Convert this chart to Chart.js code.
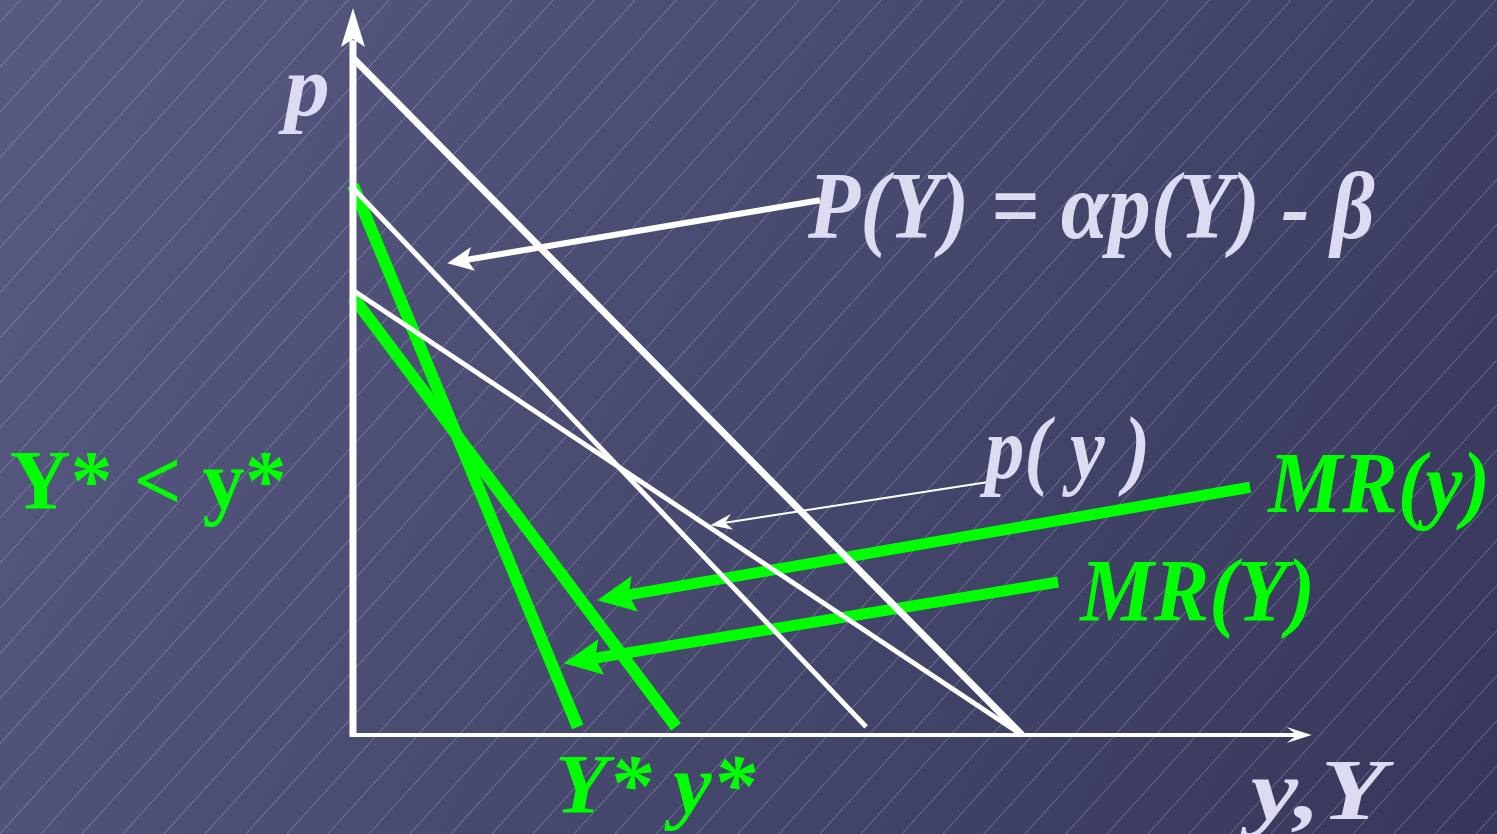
<!DOCTYPE html>
<html>
<head>
<meta charset="utf-8">
<script src="https://cdn.jsdelivr.net/npm/chart.js@4.4.1/dist/chart.umd.min.js"></script>
<style>
  html, body { margin: 0; padding: 0; background: #474870; overflow: hidden; }
  canvas { display: block; }
</style>
</head>
<body>
<canvas id="chart" width="1497" height="834"></canvas>
<script>
// curves, in (quantity, price) units
const yAxisLine = [[0, 0], [0, 10.74]];
const xAxisLine = [[-0.05, 0], [14.33, 0]];
const topDemand = [[0, 10.0], [10, 0]];
const bigPDemand = [[0, 8.08], [7.67, 0.12]];
const smallPDemand = [[0, 6.57], [10, 0]];
const mrBigY = [[0, 8.12], [3.36, 0.12]];
const mrSmallY = [[0, 6.47], [4.83, 0.12]];

// pointer arrows: [from, tip]
const arrowBigP = [[6.98, 7.90], [1.41, 6.97]];
const arrowSmallP = [[9.52, 3.74], [5.34, 3.10]];
const arrowMRy = [[13.41, 3.66], [3.65, 1.99]];
const arrowMRY = [[10.54, 2.26], [3.15, 1.06]];

// labels
const labelTexts = ['p', 'P(Y) = αp(Y) - β', 'p( y )', 'MR(y)', 'MR(Y)', 'Y* < y*', 'Y* y*', 'y,Y'];
const labelAnchors = [[-1.02, 9.16], [6.80, 7.34], [9.45, 3.80], [13.68, 3.29], [10.87, 1.70], [-5.13, 3.34], [3.02, -1.15], [13.42, -1.24]];

const LAV = '#dddbf2';
const GREEN = '#00ff00';
const labelStyle = [
  { color: LAV, size: 86, italic: true, w: 45 },
  { color: LAV, size: 96, italic: true, w: 567 },
  { color: LAV, size: 88, italic: true, w: 165 },
  { color: GREEN, size: 86, italic: true, w: 222 },
  { color: GREEN, size: 88, italic: true, w: 235 },
  { color: GREEN, size: 84, italic: false, w: 277 },
  { color: GREEN, size: 84, italic: true, w: 200 },
  { color: LAV, size: 86, italic: true, w: 135 }
];
const SERIF = '"Liberation Serif", "Times New Roman", Tinos, Times, serif';

const PX_PER_UNIT = 67;

const toXY = arr => arr.map(p => ({ x: p[0], y: p[1] }));

// stop the shaft a little before the tip so the head stays sharp
function shaft(arr, headLen) {
  const [a, b] = arr;
  const dx = b[0] - a[0], dy = b[1] - a[1];
  const d = Math.hypot(dx, dy);
  const back = headLen / PX_PER_UNIT;
  return [{ x: a[0], y: a[1] }, { x: b[0] - dx / d * back, y: b[1] - dy / d * back }];
}

function lineSet(data, color, width, head) {
  return {
    data: data,
    showLine: true,
    borderColor: color,
    backgroundColor: color,
    borderWidth: width,
    borderCapStyle: 'butt',
    pointRadius: 0,
    fill: false,
    head: head || null
  };
}

const heads = {
  yAxis: { tip: yAxisLine[1], from: yAxisLine[0], len: 39, hw: 12, notch: 8, color: '#ffffff' },
  xAxis: { tip: xAxisLine[1], from: xAxisLine[0], len: 25, hw: 8, notch: 10, color: '#ffffff' },
  bigP: { tip: arrowBigP[1], from: arrowBigP[0], len: 26, hw: 12, notch: 6, color: '#ffffff' },
  smallP: { tip: arrowSmallP[1], from: arrowSmallP[0], len: 22, hw: 8, notch: 7, color: '#ffffff' },
  mrY: { tip: arrowMRy[1], from: arrowMRy[0], len: 38, hw: 18, notch: 6, color: GREEN },
  mrBig: { tip: arrowMRY[1], from: arrowMRY[0], len: 38, hw: 18, notch: 6, color: GREEN }
};

const backgroundPlugin = {
  id: 'bg',
  beforeDraw(chart) {
    const ctx = chart.ctx;
    const W = chart.width, H = chart.height;
    ctx.save();
    const g = ctx.createLinearGradient(0, 0, W, H);
    g.addColorStop(0, '#585a82');
    g.addColorStop(1, '#36375a');
    ctx.fillStyle = g;
    ctx.fillRect(0, 0, W, H);
    ctx.strokeStyle = 'rgba(215, 215, 240, 0.33)';
    ctx.lineWidth = 1;
    const slope = 1.1;
    for (let c = -W; c < W + H * 2; c += 41) {
      ctx.beginPath();
      ctx.moveTo(c - H / slope, H);
      ctx.lineTo(c, 0);
      ctx.stroke();
    }
    ctx.restore();
  }
};

const arrowPlugin = {
  id: 'arrows',
  afterDatasetsDraw(chart) {
    const ctx = chart.ctx;
    const xs = chart.scales.x, ys = chart.scales.y;
    chart.data.datasets.forEach(ds => {
      const h = ds.head;
      if (!h) return;
      const tx = xs.getPixelForValue(h.tip[0]), ty = ys.getPixelForValue(h.tip[1]);
      const fx = xs.getPixelForValue(h.from[0]), fy = ys.getPixelForValue(h.from[1]);
      const d = Math.hypot(tx - fx, ty - fy);
      const ux = (tx - fx) / d, uy = (ty - fy) / d;
      const nx = -uy, ny = ux;
      ctx.save();
      ctx.fillStyle = h.color;
      ctx.beginPath();
      ctx.moveTo(tx, ty);
      ctx.lineTo(tx - ux * h.len + nx * h.hw, ty - uy * h.len + ny * h.hw);
      ctx.lineTo(tx - ux * (h.len - h.notch), ty - uy * (h.len - h.notch));
      ctx.lineTo(tx - ux * h.len - nx * h.hw, ty - uy * h.len - ny * h.hw);
      ctx.closePath();
      ctx.fill();
      ctx.restore();
    });
  }
};

const labelPlugin = {
  id: 'labels',
  afterDraw(chart) {
    const ctx = chart.ctx;
    const xs = chart.scales.x, ys = chart.scales.y;
    labelTexts.forEach((t, i) => {
      const st = labelStyle[i];
      const px = xs.getPixelForValue(labelAnchors[i][0]);
      const py = ys.getPixelForValue(labelAnchors[i][1]);
      ctx.save();
      ctx.font = (st.italic ? 'italic ' : '') + 'bold ' + st.size + 'px ' + SERIF;
      ctx.fillStyle = st.color;
      ctx.textBaseline = 'alphabetic';
      ctx.textAlign = 'left';
      const m = ctx.measureText(t).width;
      let k = st.w / m;
      k = Math.max(0.8, Math.min(1.25, k));
      ctx.translate(px, py);
      ctx.scale(k, 1);
      ctx.fillText(t, 0, 0);
      ctx.restore();
    });
  }
};

new Chart(document.getElementById('chart'), {
  type: 'scatter',
  data: {
    datasets: [
      lineSet(toXY(yAxisLine).slice(0, 1).concat(shaft(yAxisLine, 32).slice(1)), '#ffffff', 7, heads.yAxis),
      lineSet(toXY(xAxisLine).slice(0, 1).concat(shaft(xAxisLine, 15).slice(1)), '#ffffff', 4, heads.xAxis),
      lineSet(toXY(topDemand), '#ffffff', 7),
      lineSet(toXY(bigPDemand), '#ffffff', 5),
      lineSet(toXY(smallPDemand), '#ffffff', 5),
      lineSet(shaft(arrowBigP, 20), '#ffffff', 6, heads.bigP),
      lineSet(shaft(arrowSmallP, 15), '#ffffff', 2, heads.smallP),
      lineSet(toXY(mrBigY), GREEN, 12),
      lineSet(toXY(mrSmallY), GREEN, 12),
      lineSet(shaft(arrowMRy, 32), GREEN, 11, heads.mrY),
      lineSet(shaft(arrowMRY, 32), GREEN, 11, heads.mrBig)
    ]
  },
  options: {
    responsive: false,
    animation: false,
    events: [],
    layout: { padding: 0 },
    plugins: { legend: { display: false }, tooltip: { enabled: false } },
    scales: {
      x: { type: 'linear', min: -5.276, max: 17.1, display: false },
      y: { type: 'linear', min: -1.462, max: 10.857, display: false }
    }
  },
  plugins: [backgroundPlugin, arrowPlugin, labelPlugin]
});
</script>
</body>
</html>
